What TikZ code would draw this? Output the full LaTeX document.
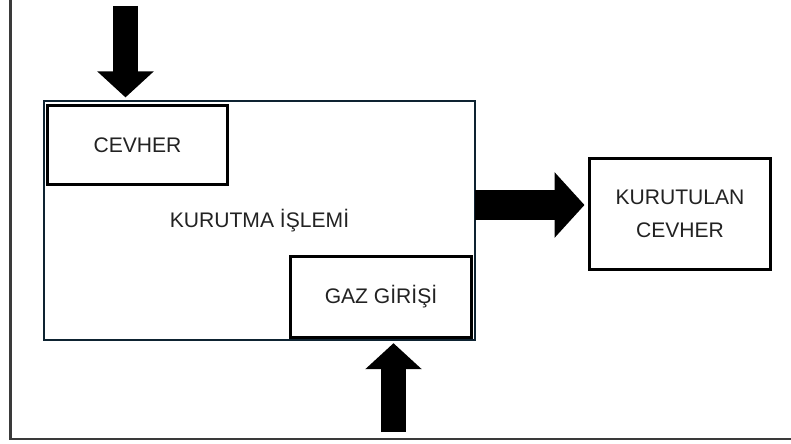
\documentclass[tikz,border=0pt]{standalone}
\usepackage{fontspec}
\setsansfont{Liberation Sans}
\usetikzlibrary{arrows.meta}
\definecolor{boxnavy}{HTML}{0E2331}
\definecolor{txtgray}{HTML}{222222}
\definecolor{framegray}{HTML}{3A3A3A}

\begin{document}
\begin{tikzpicture}[font=\sffamily\fontsize{15}{23.5}\selectfont, text=txtgray, process/.style={rectangle, draw=boxnavy, line width=2.1pt, minimum width=10.775cm, minimum height=5.975cm}, part/.style={rectangle, draw=black, line width=2.1pt, fill=white, align=center, inner sep=0pt}, bigarrow/.style={line width=17.7pt, draw=black, -{Triangle[width=1.375cm, length=0.65cm]}}, widearrow/.style={line width=21.3pt, draw=black, -{Triangle[width=1.6cm, length=0.75cm]}}]
\useasboundingbox (0,0) rectangle (19.775,11.075);
\draw[framegray, line width=1.5pt] (0.2625,11.075) |- (19.775,0.1);
\node[process] (proc) at (6.4875,5.5625) {KURUTMA İŞLEMİ};
\node[part, minimum width=4.5cm, minimum height=1.975cm] (cevher) at (3.4375,7.45) {CEVHER};
\node[part, minimum width=4.525cm, minimum height=2.025cm] (gaz) at (9.525,3.65) {GAZ GİRİŞİ};
\node[part, minimum width=4.525cm, minimum height=2.775cm] (out) at (17.0,5.725) {KURUTULAN\\CEVHER};
\coordinate (in1) at (3.1375,10.925); \coordinate (in2) at (9.8375,0.275); \coordinate (outpt) at (11.875,5.95);
\draw[bigarrow, shorten >=1.5pt] (in1) -- (in1 |- proc.north);
\draw[bigarrow, shorten >=3pt] (in2) -- (in2 |- gaz.south);
\draw[widearrow, shorten >=2.5pt] (outpt) -- (outpt -| out.west);
\end{tikzpicture}
\end{document}
